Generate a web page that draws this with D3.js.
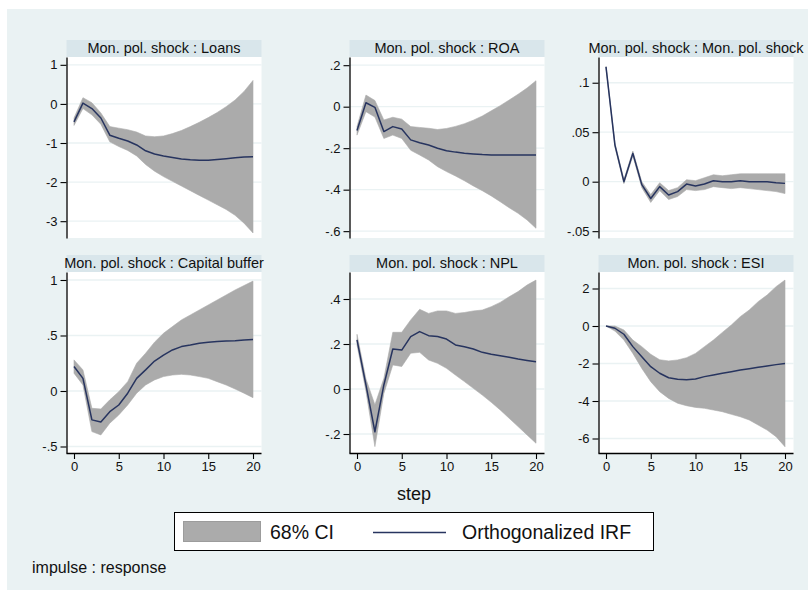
<!DOCTYPE html>
<html>
<head>
<meta charset="utf-8">
<script src="https://cdn.jsdelivr.net/npm/d3@7"></script>
<style>
  html, body { margin: 0; padding: 0; background: #ffffff; }
  svg { display: block; font-family: "Liberation Sans", Arial, sans-serif; }
</style>
</head>
<body>
<svg id="chart" width="808" height="595"></svg>
<script>
// Forecast horizon (steps after the shock)
const steps = [0, 1, 2, 3, 4, 5, 6, 7, 8, 9, 10, 11, 12, 13, 14, 15, 16, 17, 18, 19, 20];
const stepTicks = [0, 5, 10, 15, 20];

const panelTitles = [
  "Mon. pol. shock : Loans",
  "Mon. pol. shock : ROA",
  "Mon. pol. shock : Mon. pol. shock",
  "Mon. pol. shock : Capital buffer",
  "Mon. pol. shock : NPL",
  "Mon. pol. shock : ESI"
];

// Response of Loans
const loansIrf = [-0.46, 0.02, -0.12, -0.36, -0.80, -0.88, -0.95, -1.05, -1.20, -1.28, -1.33, -1.37, -1.41, -1.43, -1.44, -1.44, -1.42, -1.40, -1.38, -1.36, -1.35];
const loansLo  = [-0.55, -0.12, -0.28, -0.52, -0.97, -1.09, -1.19, -1.33, -1.55, -1.72, -1.86, -1.98, -2.10, -2.22, -2.34, -2.46, -2.58, -2.70, -2.85, -3.05, -3.30];
const loansHi  = [-0.36, 0.16, 0.03, -0.23, -0.58, -0.62, -0.66, -0.72, -0.82, -0.84, -0.82, -0.76, -0.68, -0.58, -0.47, -0.35, -0.22, -0.07, 0.10, 0.32, 0.60];
const loansTicks = [1, 0, -1, -2, -3];
const loansRange = [-3.43, 1.2];

// Response of ROA
const roaIrf = [-0.115, 0.019, -0.003, -0.120, -0.096, -0.108, -0.160, -0.174, -0.185, -0.200, -0.212, -0.219, -0.225, -0.228, -0.231, -0.233, -0.233, -0.233, -0.233, -0.233, -0.233];
const roaLo  = [-0.137, -0.024, -0.050, -0.153, -0.137, -0.153, -0.210, -0.233, -0.257, -0.289, -0.313, -0.334, -0.357, -0.382, -0.405, -0.430, -0.458, -0.487, -0.514, -0.546, -0.586];
const roaHi  = [-0.096, 0.056, 0.030, -0.064, -0.051, -0.060, -0.096, -0.100, -0.104, -0.110, -0.105, -0.095, -0.082, -0.065, -0.045, -0.020, 0.005, 0.032, 0.060, 0.090, 0.125];
const roaTicks = [0.2, 0, -0.2, -0.4, -0.6];
const roaRange = [-0.633, 0.2395];

// Response of the policy rate shock itself
const mpIrf = [0.116, 0.037, 0.000, 0.0286, -0.003, -0.017, -0.005, -0.0135, -0.010, -0.0024, -0.0044, -0.0024, 0.001, 0.000, 0.000, 0.001, 0.000, 0.000, 0.000, -0.001, -0.0017];
const mpLo  = [0.1155, 0.035, -0.002, 0.026, -0.006, -0.021, -0.009, -0.018, -0.015, -0.008, -0.009, -0.008, -0.005, -0.006, -0.007, -0.006, -0.007, -0.008, -0.009, -0.010, -0.012];
const mpHi  = [0.1165, 0.039, 0.002, 0.031, 0.000, -0.013, -0.001, -0.009, -0.006, 0.002, 0.001, 0.004, 0.007, 0.006, 0.007, 0.008, 0.008, 0.008, 0.008, 0.008, 0.008];
const mpTicks = [0.1, 0.05, 0, -0.05];
const mpRange = [-0.0569, 0.126];

// Response of Capital buffer
const capIrf = [0.22, 0.114, -0.26, -0.28, -0.186, -0.126, -0.02, 0.114, 0.19, 0.27, 0.324, 0.37, 0.40, 0.414, 0.43, 0.44, 0.445, 0.45, 0.453, 0.46, 0.465];
const capLo  = [0.16, 0.054, -0.366, -0.396, -0.29, -0.216, -0.126, -0.02, 0.054, 0.10, 0.13, 0.144, 0.15, 0.144, 0.13, 0.114, 0.084, 0.054, 0.018, -0.02, -0.06];
const capHi  = [0.28, 0.19, -0.156, -0.162, -0.08, -0.006, 0.084, 0.25, 0.34, 0.44, 0.52, 0.58, 0.64, 0.685, 0.73, 0.775, 0.82, 0.865, 0.91, 0.95, 0.99];
const capTicks = [1, 0.5, 0, -0.5];
const capRange = [-0.5586, 1.072];

// Response of NPL
const nplIrf = [0.218, 0.018, -0.19, 0.018, 0.178, 0.173, 0.233, 0.255, 0.237, 0.233, 0.222, 0.196, 0.188, 0.178, 0.163, 0.154, 0.148, 0.141, 0.133, 0.127, 0.121];
const nplLo  = [0.196, -0.01, -0.256, -0.02, 0.107, 0.10, 0.159, 0.163, 0.129, 0.114, 0.092, 0.062, 0.033, 0.003, -0.027, -0.059, -0.093, -0.13, -0.167, -0.204, -0.241];
const nplHi  = [0.243, 0.045, -0.07, 0.047, 0.252, 0.252, 0.307, 0.354, 0.336, 0.347, 0.347, 0.336, 0.34, 0.347, 0.351, 0.366, 0.385, 0.41, 0.433, 0.462, 0.484];
const nplTicks = [0.4, 0.2, 0, -0.2];
const nplRange = [-0.2844, 0.52];

// Response of ESI
const esiIrf = [0, -0.12, -0.44, -1.10, -1.64, -2.17, -2.52, -2.76, -2.84, -2.86, -2.83, -2.70, -2.61, -2.52, -2.44, -2.35, -2.28, -2.20, -2.13, -2.06, -2.00];
const esiLo  = [0, -0.27, -0.75, -1.46, -2.26, -2.97, -3.50, -3.86, -4.12, -4.25, -4.34, -4.39, -4.48, -4.57, -4.71, -4.84, -5.01, -5.28, -5.55, -5.90, -6.44];
const esiHi  = [0, 0, -0.21, -0.75, -1.10, -1.51, -1.80, -1.86, -1.81, -1.69, -1.46, -1.10, -0.75, -0.34, 0.05, 0.50, 0.85, 1.30, 1.65, 2.10, 2.45];
const esiTicks = [2, 0, -2, -4, -6];
const esiRange = [-6.773, 2.88];

const legendLabels = ["68% CI", "Orthogonalized IRF"];
const xAxisTitle = "step";
const noteText = "impulse : response";

const panels = [
  { title: panelTitles[0], irf: loansIrf, lo: loansLo, hi: loansHi, ticks: loansTicks, range: loansRange },
  { title: panelTitles[1], irf: roaIrf,   lo: roaLo,   hi: roaHi,   ticks: roaTicks,   range: roaRange },
  { title: panelTitles[2], irf: mpIrf,    lo: mpLo,    hi: mpHi,    ticks: mpTicks,    range: mpRange },
  { title: panelTitles[3], irf: capIrf,   lo: capLo,   hi: capHi,   ticks: capTicks,   range: capRange },
  { title: panelTitles[4], irf: nplIrf,   lo: nplLo,   hi: nplHi,   ticks: nplTicks,   range: nplRange },
  { title: panelTitles[5], irf: esiIrf,   lo: esiLo,   hi: esiHi,   ticks: esiTicks,   range: esiRange }
];

// ---- styling / layout ----
const C = {
  bg: "#eaf2f3",
  bar: "#d9e6eb",
  band: "#ababab",
  line: "#27345f",
  text: "#111111"
};
const colLeft = [66.5, 349.5, 598.5];
const rowTop = [57, 272];
const plotW = 195, plotH = 181, barH = 17;

// Stata-style numbers: drop the leading zero (.5, -.05)
const fmt = v => v === 0 ? "0" : String(v).replace(/^(-?)0\./, "$1.");

const svg = d3.select("#chart");

svg.append("rect")
  .attr("x", 7).attr("y", 9).attr("width", 801).attr("height", 581)
  .attr("fill", C.bg);

panels.forEach((p, i) => {
  const L = colLeft[i % 3];
  const T = rowTop[Math.floor(i / 3)];
  const bottomRow = i >= 3;

  const x = d3.scaleLinear().domain([0, 20]).range([L + 7.5, L + 186.5]);
  const y = d3.scaleLinear().domain(p.range).range([T + plotH, T]);

  const g = svg.append("g");

  // plot region
  g.append("rect")
    .attr("x", L).attr("y", T).attr("width", plotW).attr("height", plotH)
    .attr("fill", "#ffffff");

  // horizontal grid
  g.selectAll(".grid").data(p.ticks).join("line")
    .attr("x1", L).attr("x2", L + plotW)
    .attr("y1", d => y(d)).attr("y2", d => y(d))
    .attr("stroke", C.bg).attr("stroke-width", 1.3);

  // confidence band
  const area = d3.area()
    .x((d, k) => x(steps[k]))
    .y0((d, k) => y(p.lo[k]))
    .y1((d, k) => y(p.hi[k]));
  g.append("path")
    .datum(steps)
    .attr("d", area)
    .attr("fill", C.band)
    .attr("stroke", C.band)
    .attr("stroke-width", 0.6);

  // impulse response
  const line = d3.line()
    .x((d, k) => x(steps[k]))
    .y((d, k) => y(p.irf[k]));
  g.append("path")
    .datum(steps)
    .attr("d", line)
    .attr("fill", "none")
    .attr("stroke", C.line)
    .attr("stroke-width", 1.5)
    .attr("stroke-linejoin", "round");

  // panel title bar
  g.append("rect")
    .attr("x", L).attr("y", T - barH).attr("width", plotW).attr("height", barH)
    .attr("fill", C.bar);
  g.append("text")
    .attr("x", L + plotW / 2).attr("y", T - 4.5)
    .attr("text-anchor", "middle")
    .attr("font-size", 14.5)
    .attr("fill", C.text)
    .text(p.title);

  // y axis
  const ya = g.append("g")
    .attr("transform", `translate(${L},0)`)
    .call(d3.axisLeft(y).tickValues(p.ticks).tickFormat(fmt)
      .tickSize(6).tickSizeOuter(0).tickPadding(3));
  ya.select(".domain").attr("stroke", "#000").attr("stroke-width", 1.3);
  ya.selectAll(".tick line").attr("stroke", "#000").attr("stroke-width", 1.1);
  ya.selectAll(".tick text")
    .attr("font-size", 13).attr("fill", C.text)
    .attr("font-family", "Liberation Sans, Arial, sans-serif");

  // x axis on the bottom row only
  if (bottomRow) {
    const xa = g.append("g")
      .attr("transform", `translate(0,${T + plotH})`)
      .call(d3.axisBottom(x).tickValues(stepTicks).tickFormat(d3.format("d"))
        .tickSize(6).tickSizeOuter(0).tickPadding(3));
    xa.select(".domain")
      .attr("d", `M${L},0.5H${L + plotW}`)
      .attr("stroke", "#000").attr("stroke-width", 1.3);
    xa.selectAll(".tick line").attr("stroke", "#000").attr("stroke-width", 1.1);
    xa.selectAll(".tick text")
      .attr("font-size", 13).attr("fill", C.text)
      .attr("font-family", "Liberation Sans, Arial, sans-serif");
  }
});

// common x-axis title
svg.append("text")
  .attr("x", 414).attr("y", 500)
  .attr("text-anchor", "middle")
  .attr("font-size", 18)
  .attr("fill", C.text)
  .text(xAxisTitle);

// legend
const lg = svg.append("g");
lg.append("rect")
  .attr("x", 174.5).attr("y", 512.5).attr("width", 479).attr("height", 38)
  .attr("fill", "#ffffff").attr("stroke", "#000").attr("stroke-width", 1);
lg.append("rect")
  .attr("x", 183.5).attr("y", 521.5).attr("width", 77).attr("height", 20)
  .attr("fill", C.band).attr("stroke", "#9c9c9c").attr("stroke-width", 1);
lg.append("text")
  .attr("x", 270).attr("y", 539)
  .attr("font-size", 19.5).attr("fill", C.text)
  .text(legendLabels[0]);
lg.append("line")
  .attr("x1", 373).attr("x2", 446).attr("y1", 532.5).attr("y2", 532.5)
  .attr("stroke", C.line).attr("stroke-width", 1.5);
lg.append("text")
  .attr("x", 462).attr("y", 539)
  .attr("font-size", 19.5).attr("fill", C.text)
  .text(legendLabels[1]);

// note
svg.append("text")
  .attr("x", 32).attr("y", 573)
  .attr("font-size", 16).attr("fill", C.text)
  .text(noteText);
</script>
</body>
</html>
